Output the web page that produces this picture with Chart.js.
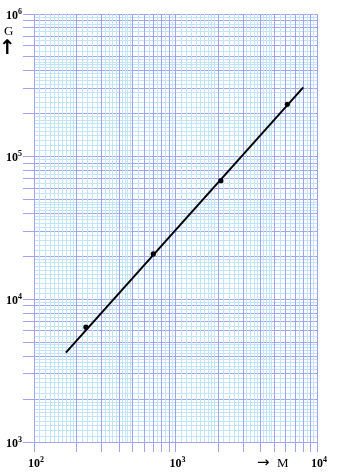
<!DOCTYPE html>
<html><head><meta charset="utf-8">
<script src="https://cdn.jsdelivr.net/npm/chart.js@4/dist/chart.umd.min.js"></script>
<style>html,body{margin:0;padding:0;background:#fff;}#wrap{width:351px;height:476px;}</style>
</head><body><div id="wrap"><canvas id="c" width="351" height="476"></canvas></div>
<script>
// Measured points (M, G)
const pointsM = [233, 697, 2090, 6170];
const pointsG = [6380, 20800, 67900, 233000];
// Fitted straight line end points
const fitM = [168, 8000];
const fitG = [4230, 306000];
// Decade tick labels (exponents of 10)
const xExponents = [2, 3, 4];
const yExponents = [3, 4, 5, 6];
const xTitle = 'M';
const xArrow = '→';
const yTitle = 'G';
const yArrow = '↑';

const MAJOR = '#a3a3f3';
const MINOR = '#c2e5fb';

// minor subdivisions in tenths of the decade mantissa
function minorTenths() {
  const t = [];
  for (let v = 11; v <= 19; v++) t.push(v);
  for (let v = 22; v <= 48; v += 2) if (v % 10 !== 0) t.push(v);
  for (let v = 55; v <= 95; v += 10) t.push(v);
  return t;
}
function buildGrid(minExp, maxExp) {
  const minor = [], major = [];
  for (let e = minExp; e < maxExp; e++) {
    const p = Math.pow(10, e);
    minorTenths().forEach(t => minor.push({ value: t / 10 * p, isMajor: false }));
    for (let m = 1; m <= 9; m++) major.push({ value: m * p, isMajor: true });
  }
  major.push({ value: Math.pow(10, maxExp), isMajor: true });
  return minor.concat(major);
}
const xMinExp = Math.min(...xExponents), xMaxExp = Math.max(...xExponents);
const yMinExp = Math.min(...yExponents), yMaxExp = Math.max(...yExponents);

function gridOpts(tickLen) {
  return {
    color: c => (c.tick && c.tick.isMajor) ? MAJOR : MINOR,
    tickColor: c => (c.tick && c.tick.isMajor) ? MAJOR : 'rgba(0,0,0,0)',
    lineWidth: 1,
    tickWidth: 1,
    tickLength: tickLen,
    drawTicks: true,
    drawOnChartArea: true
  };
}

const labelPlugin = {
  id: 'labels',
  afterDraw(chart) {
    const ctx = chart.ctx;
    const xs = chart.scales.x, ys = chart.scales.y;
    const baseFont = 'bold 12px "Liberation Serif", "Times New Roman", serif';
    const supFont = 'bold 8px "Liberation Serif", "Times New Roman", serif';
    ctx.save();
    ctx.fillStyle = '#000';
    ctx.textBaseline = 'alphabetic';
    ctx.textAlign = 'left';
    // y labels
    yExponents.forEach(e => {
      const py = ys.getPixelForValue(Math.pow(10, e));
      ctx.font = baseFont; const w1 = ctx.measureText('10').width;
      ctx.font = supFont; const w2 = ctx.measureText(String(e)).width;
      const x0 = 22 - w1 - w2;
      const by = py + 4.5;
      ctx.font = baseFont; ctx.fillText('10', x0, by);
      ctx.font = supFont; ctx.fillText(String(e), x0 + w1, by - 5);
    });
    // x labels
    xExponents.forEach(e => {
      const px = xs.getPixelForValue(Math.pow(10, e));
      ctx.font = baseFont; const w1 = ctx.measureText('10').width;
      const x0 = px - w1 / 2;
      const by = 467;
      ctx.fillText('10', x0, by);
      ctx.font = supFont; ctx.fillText(String(e), x0 + w1, by - 5);
    });
    // axis titles
    ctx.font = '13px "Liberation Serif", "Times New Roman", serif';
    ctx.fillText(yTitle, 4, 35);
    ctx.font = 'bold 20px "DejaVu Sans", sans-serif';
    ctx.textAlign = 'center';
    ctx.fillText(yArrow, 7.5, 54);
    ctx.textAlign = 'left';
    ctx.font = '15px "DejaVu Sans", sans-serif';
    ctx.fillText(xArrow, 257, 467);
    ctx.font = '13px "Liberation Serif", "Times New Roman", serif';
    ctx.fillText(xTitle, 277, 467);
    ctx.restore();
  }
};

new Chart(document.getElementById('c'), {
  type: 'scatter',
  data: {
    datasets: [
      {
        data: fitM.map((m, i) => ({ x: m, y: fitG[i] })),
        showLine: true, borderColor: '#000', borderWidth: 2,
        pointRadius: 0, fill: false
      },
      {
        data: pointsM.map((m, i) => ({ x: m, y: pointsG[i] })),
        showLine: false, pointRadius: 2.6, pointBackgroundColor: '#000',
        pointBorderColor: '#000', pointBorderWidth: 0
      }
    ]
  },
  options: {
    responsive: false,
    animation: false,
    devicePixelRatio: 1,
    layout: { padding: { top: 14, right: 34, left: 0, bottom: 0 } },
    plugins: { legend: { display: false }, tooltip: { enabled: false } },
    scales: {
      y: {
        type: 'logarithmic', position: 'left',
        min: Math.pow(10, yMinExp), max: Math.pow(10, yMaxExp),
        afterBuildTicks: s => { s.ticks = buildGrid(yMinExp, yMaxExp); },
        afterFit: s => { s.width = 34; },
        ticks: { display: false, autoSkip: false },
        border: { display: false },
        grid: gridOpts(11)
      },
      x: {
        type: 'logarithmic', position: 'bottom',
        min: Math.pow(10, xMinExp), max: Math.pow(10, xMaxExp),
        afterBuildTicks: s => { s.ticks = buildGrid(xMinExp, xMaxExp); },
        afterFit: s => { s.height = 34; },
        ticks: { display: false, autoSkip: false },
        border: { display: false },
        grid: gridOpts(10)
      }
    }
  },
  plugins: [labelPlugin]
});
</script>
</body></html>
